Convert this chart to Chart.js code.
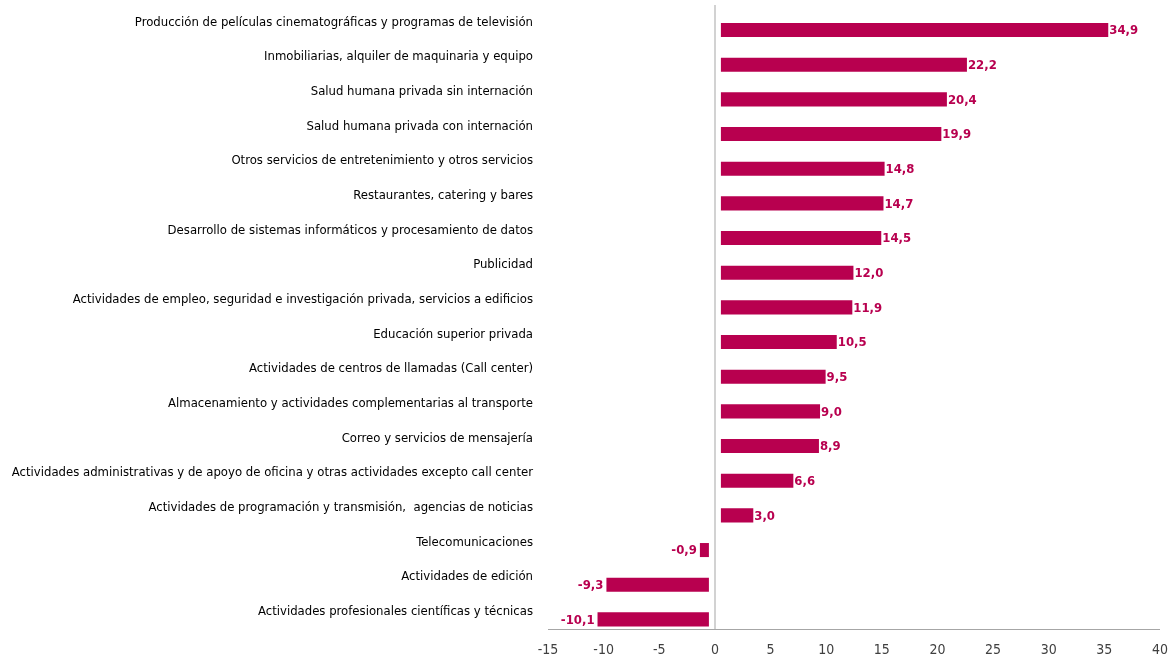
<!DOCTYPE html>
<html>
<head>
<meta charset="utf-8">
<script src="https://cdn.jsdelivr.net/npm/chart.js@4/dist/chart.umd.min.js"></script>
<style>
html,body{margin:0;padding:0;background:#fff;}
#wrap{width:1171px;height:662px;position:relative;}
</style>
</head>
<body>
<div id="wrap"><canvas id="c" width="1171" height="662"></canvas></div>
<script>
const categories = [
  "Producción de películas cinematográficas y programas de televisión",
  "Inmobiliarias, alquiler de maquinaria y equipo",
  "Salud humana privada sin internación",
  "Salud humana privada con internación",
  "Otros servicios de entretenimiento y otros servicios",
  "Restaurantes, catering y bares",
  "Desarrollo de sistemas informáticos y procesamiento de datos",
  "Publicidad",
  "Actividades de empleo, seguridad e investigación privada, servicios a edificios",
  "Educación superior privada",
  "Actividades de centros de llamadas (Call center)",
  "Almacenamiento y actividades complementarias al transporte",
  "Correo y servicios de mensajería",
  "Actividades administrativas y de apoyo de oficina y otras actividades excepto call center",
  "Actividades de programación y transmisión,  agencias de noticias",
  "Telecomunicaciones",
  "Actividades de edición",
  "Actividades profesionales científicas y técnicas"
];
const values = [34.9, 22.2, 20.4, 19.9, 14.8, 14.7, 14.5, 12.0, 11.9, 10.5, 9.5, 9.0, 8.9, 6.6, 3.0, -0.9, -9.3, -10.1];
const xTicks = [-15, -10, -5, 0, 5, 10, 15, 20, 25, 30, 35, 40];

const BAR = '#B8004F';
const FONT = "'DejaVu Sans Condensed','Liberation Sans Narrow','Open Sans',sans-serif";

const gapPlugin = {
  id: 'gap',
  afterDatasetsUpdate(chart) {
    const meta = chart.getDatasetMeta(1);
    meta.data.forEach((el, i) => {
      const s = values[i] >= 0 ? 5 : -5;
      el.x += s; el.base += s;
    });
  }
};

const labelPlugin = {
  id: 'vlabels',
  afterDatasetsDraw(chart) {
    const ctx = chart.ctx;
    const meta = chart.getDatasetMeta(1);
    ctx.save();
    ctx.font = "bold 13px " + FONT;
    ctx.fillStyle = BAR;
    ctx.textBaseline = 'middle';
    meta.data.forEach((el, i) => {
      const v = values[i];
      const txt = v.toFixed(1).replace('.', ',');
      if (v >= 0) { ctx.textAlign = 'left'; ctx.fillText(txt, el.x + 1, el.y + 1); }
      else { ctx.textAlign = 'right'; ctx.fillText(txt, el.x - 3, el.y + 1); }
    });
    ctx.restore();
  }
};

new Chart(document.getElementById('c'), {
  type: 'bar',
  data: {
    labels: categories,
    datasets: [
      { data: categories.map(() => null), backgroundColor: 'transparent' },
      { data: values, backgroundColor: BAR, borderWidth: 0 }
    ]
  },
  options: {
    indexAxis: 'y',
    responsive: false,
    animation: false,
    categoryPercentage: 0.89,
    barPercentage: 0.91,
    layout: { padding: { left: 0, right: 11, top: 5, bottom: 0 } },
    plugins: { legend: { display: false }, tooltip: { enabled: false } },
    scales: {
      x: {
        min: -15, max: 40,
        afterBuildTicks(scale) { scale.ticks = xTicks.map(v => ({ value: v })); },
        afterFit(scale) { scale.height = 33; scale.paddingLeft = 0; scale.paddingRight = 0; },
        grid: {
          drawTicks: false,
          color: c => (c.tick && c.tick.value === 0) ? '#d2d2d2' : 'rgba(0,0,0,0)',
          lineWidth: c => (c.tick && c.tick.value === 0) ? 2 : 0
        },
        border: { display: true, color: '#a6a6a6', width: 1 },
        ticks: { padding: 13, color: '#404040', font: { family: FONT, size: 14 } }
      },
      y: {
        afterFit(scale) { scale.width = 548; scale.paddingTop = 0; scale.paddingBottom = 0; },
        grid: { display: false, drawTicks: false },
        border: { display: false },
        ticks: { padding: 15, color: '#000000', font: { family: FONT, size: 13 }, autoSkip: false }
      }
    }
  },
  plugins: [gapPlugin, labelPlugin]
});
</script>
</body>
</html>
